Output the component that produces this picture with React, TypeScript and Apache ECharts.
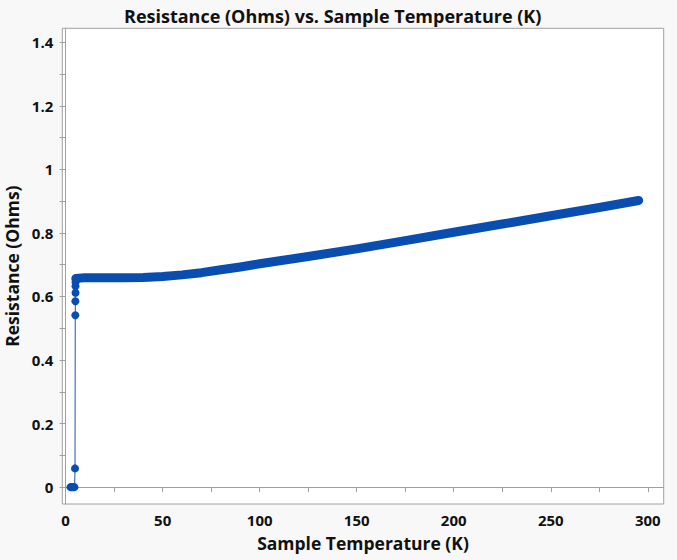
import React, { useEffect, useRef } from "react";
import * as echarts from "echarts";

// Sample temperature (K) and resistance (Ohms)
const bandTemps = [5.3, 10, 20, 30, 40, 50, 60, 70, 80, 90, 100, 125, 150, 175, 200, 225, 250, 275, 295.3];
const bandRes = [0.657, 0.659, 0.659, 0.659, 0.66, 0.663, 0.668, 0.675, 0.684, 0.693, 0.703, 0.726, 0.75, 0.776, 0.802, 0.828, 0.854, 0.88, 0.902];

const transitionTemps = [2.5, 3.0, 3.5, 4.0, 4.6, 4.85, 5.0, 5.05, 5.1, 5.1, 5.15, 5.2, 5.3];
const transitionRes = [0, 0, 0, 0, 0, 0.059, 0.541, 0.585, 0.612, 0.632, 0.645, 0.652, 0.657];

const xTickLabels = [0, 50, 100, 150, 200, 250, 300];
const xTicks = [0, 25, 50, 75, 100, 125, 150, 175, 200, 225, 250, 275, 300];
const yTickLabels = [0, 0.2, 0.4, 0.6, 0.8, 1, 1.2, 1.4];
const yTicks = [0, 0.1, 0.2, 0.3, 0.4, 0.5, 0.6, 0.7, 0.8, 0.9, 1, 1.1, 1.2, 1.3, 1.4];

const FONT = "'Open Sans', Lato, sans-serif";
const BLUE = "#0a4db0";
const GRAY = "#a0a0a0";

export default function App() {
  const ref = useRef<HTMLDivElement>(null);
  useEffect(() => {
    if (!ref.current) return;
    const chart = echarts.init(ref.current, undefined, { renderer: "svg" });
    const band = bandTemps.map((t, i) => [t, bandRes[i]]);
    const trans = transitionTemps.map((t, i) => [t, transitionRes[i]]);
    chart.setOption({
      animation: false,
      backgroundColor: "#f8f8f8",
      title: {
        text: "Resistance (Ohms) vs. Sample Temperature (K)",
        left: 119,
        top: 2,
        textStyle: { fontFamily: FONT, fontSize: 18, fontWeight: "bold", color: "#111" },
      },
      grid: {
        left: 62.3,
        right: 13.3,
        top: 28.3,
        bottom: 56,
        show: true,
        backgroundColor: "#ffffff",
        borderColor: GRAY,
        borderWidth: 1,
        outerBoundsMode: "none",
      },
      xAxis: {
        type: "value",
        min: -1.7,
        max: 308.2,
        name: "Sample Temperature (K)",
        nameLocation: "middle",
        nameGap: 30,
        nameTextStyle: { fontFamily: FONT, fontSize: 17.5, fontWeight: "bold", color: "#111" },
        axisLine: { show: true, lineStyle: { color: GRAY } },
        axisTick: { show: true, length: 5, customValues: xTicks, lineStyle: { color: GRAY } },
        axisLabel: {
          customValues: xTickLabels,
          margin: 8,
          fontFamily: FONT,
          fontSize: 15,
          fontWeight: "bold",
          color: "#111",
          formatter: (v: number) => String(Math.round(v)),
        },
        splitLine: { show: false },
      },
      yAxis: {
        type: "value",
        min: -0.053,
        max: 1.444,
        name: "Resistance (Ohms)",
        nameLocation: "middle",
        nameGap: 41,
        nameTextStyle: { fontFamily: FONT, fontSize: 17.5, fontWeight: "bold", color: "#111" },
        axisLine: { show: true, lineStyle: { color: GRAY } },
        axisTick: { show: true, length: 6, customValues: yTicks, lineStyle: { color: GRAY } },
        axisLabel: {
          customValues: yTickLabels,
          margin: 9,
          fontFamily: FONT,
          fontSize: 15,
          fontWeight: "bold",
          color: "#111",
          formatter: (v: number) => String(Math.round(v * 10) / 10),
        },
        splitLine: { show: false },
      },
      series: [
        {
          type: "line",
          data: band,
          showSymbol: false,
          symbol: "none",
          lineStyle: { color: BLUE, width: 9, cap: "round", join: "round" },
          z: 2,
        },
        {
          type: "line",
          data: trans,
          symbol: "circle",
          symbolSize: 8,
          showSymbol: true,
          itemStyle: { color: BLUE },
          lineStyle: { color: "#3f70c4", width: 1.2 },
          z: 3,
        },
      ],
    });
    return () => chart.dispose();
  }, []);
  return (
    <div
      ref={ref}
      style={{ position: "absolute", left: 0, top: 0, width: 677, height: 560 }}
    />
  );
}
